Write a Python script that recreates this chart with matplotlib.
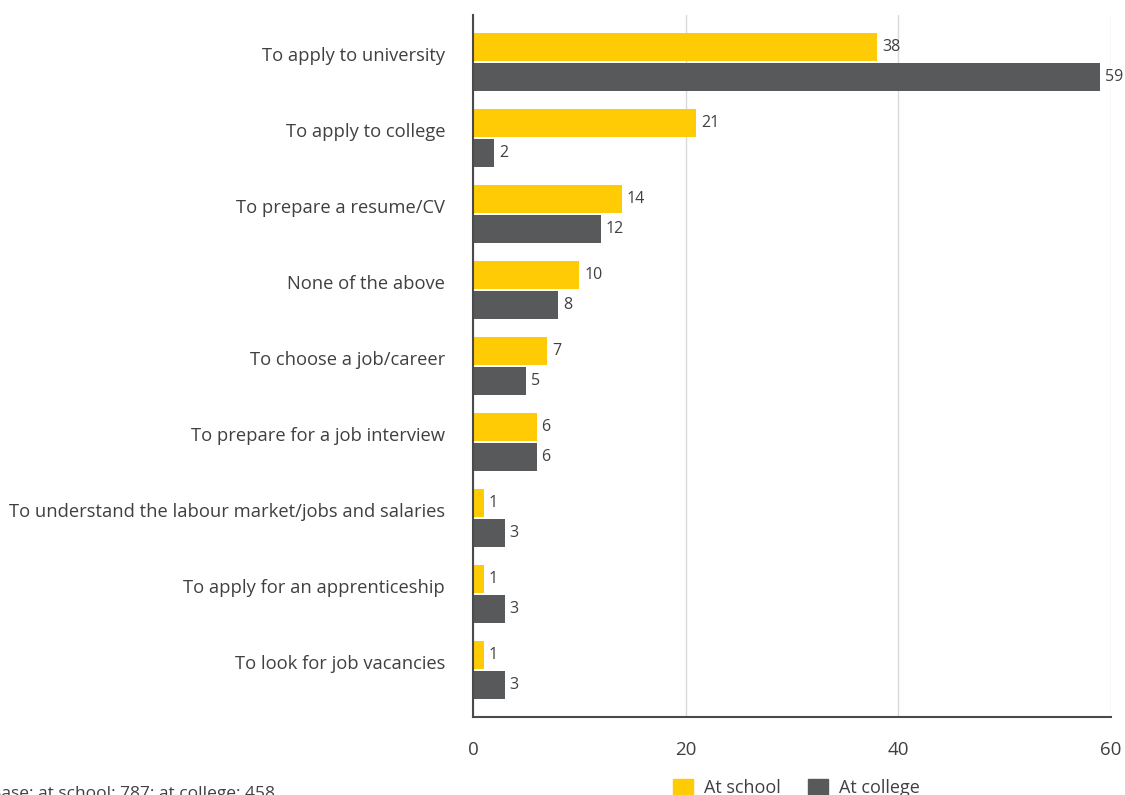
import matplotlib.pyplot as plt
import numpy as np
from matplotlib.patches import Patch

plt.rcParams['font.family'] = ['Open Sans', 'DejaVu Sans']

categories = [
    "To apply to university",
    "To apply to college",
    "To prepare a resume/CV",
    "None of the above",
    "To choose a job/career",
    "To prepare for a job interview",
    "To understand the labour market/jobs and salaries",
    "To apply for an apprenticeship",
    "To look for job vacancies",
]
at_school = [38, 21, 14, 10, 7, 6, 1, 1, 1]
at_college = [59, 2, 12, 8, 5, 6, 3, 3, 3]
x_ticks = [0, 20, 40, 60]

yellow = "#FFCB05"
grey = "#58595B"
text_col = "#404040"

fig = plt.figure(figsize=(11.25, 7.95), dpi=100)
ax = fig.add_axes([0.4204, 0.0981, 0.5672, 0.883])

y = np.arange(len(categories))
h = 0.37
off = 0.2
ax.barh(y - off, at_school, height=h, color=yellow, zorder=3)
ax.barh(y + off, at_college, height=h, color=grey, zorder=3)

for yi, v in zip(y - off, at_school):
    ax.text(v + 0.45, yi, str(v), va="center", ha="left", fontsize=11.5, color=text_col)
for yi, v in zip(y + off, at_college):
    ax.text(v + 0.45, yi, str(v), va="center", ha="left", fontsize=11.5, color=text_col)

ax.set_xlim(0, 60)
ax.set_ylim(8.62, -0.62)
ax.set_xticks(x_ticks)
ax.set_xticklabels([str(t) for t in x_ticks], fontsize=13.5, color=text_col)
ax.set_yticks(y - 0.11)
ax.set_yticklabels(categories, fontsize=13.2, color=text_col)
ax.tick_params(axis="both", length=0)
ax.tick_params(axis="x", pad=17)
ax.tick_params(axis="y", pad=20)

ax.grid(axis="x", color="#d9d9d9", linewidth=1, zorder=0)
for s in ["top", "right"]:
    ax.spines[s].set_visible(False)
for s in ["left", "bottom"]:
    ax.spines[s].set_color("#4a4a4a")
    ax.spines[s].set_linewidth(1.5)
    ax.spines[s].set_zorder(4)

handles = [Patch(color=yellow, label="At school"), Patch(color=grey, label="At college")]
fig.legend(handles=handles, loc="upper center", bbox_to_anchor=(0.708, 0.041),
           ncol=2, frameon=False, fontsize=13, handlelength=1.1, handleheight=1.1,
           columnspacing=1.5, handletextpad=0.6, labelcolor=text_col)

fig.text(-0.009, -0.004, "Base: at school: 787; at college: 458", fontsize=12.5,
         color=text_col, ha="left", va="baseline")

fig.savefig("out.png", dpi=100)
